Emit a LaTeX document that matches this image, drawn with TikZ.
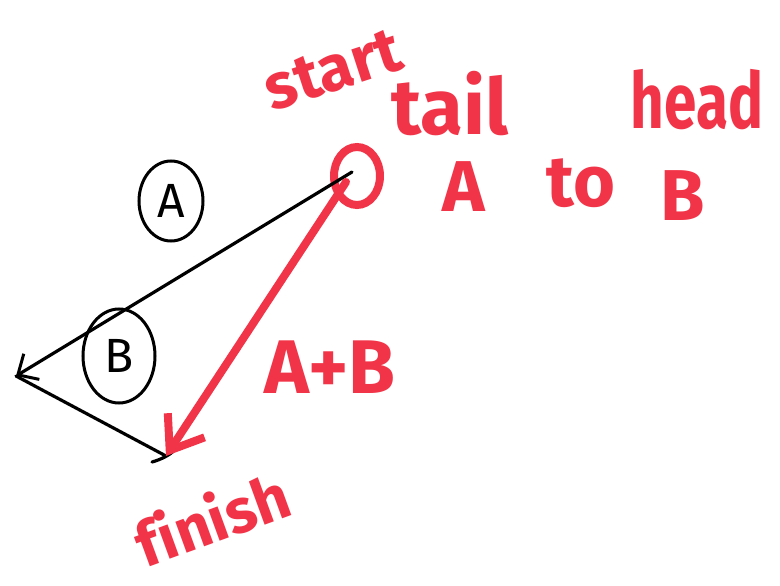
\documentclass[tikz,border=0pt]{standalone}
\usepackage{fontspec}
\setmainfont{Fira Sans}
\usetikzlibrary{arrows.meta,positioning,shapes.geometric}
\definecolor{penred}{RGB}{242,52,72}

\begin{document}
\begin{tikzpicture}[
    x=1pt, y=-1pt,
    redtext/.style={text=penred, font=\bfseries\fontsize{#1}{#1}\selectfont, inner sep=0pt},
    redtext/.default=78,
    vec/.style={draw=black, line width=3.2pt, line cap=round},
    sumvec/.style={draw=penred, line width=8pt, line cap=round,
      -{Straight Barb[length=30pt, width=44pt, line width=8pt]}},
    tag/.style={draw=black, line width=3pt, ellipse, inner sep=0pt,
      font=\fontsize{48}{48}\selectfont}
  ]
    \useasboundingbox (0,0) rectangle (780,586);

    % points of the two vectors
    \coordinate (start) at (352,172);
    \coordinate (tipA) at (16,376);
    \coordinate (finish) at (166,456);

    \node[draw=penred, line width=8pt, ellipse, minimum width=46pt, minimum height=58pt] (startring) at (357,176) {};

    % vector A and vector B (black)
    \draw[vec, -{Straight Barb[length=16pt, width=30pt, line width=3pt]}] (start) -- (tipA);
    \draw[vec] (tipA) -- (finish);
    \draw[vec] (finish) ++(-14,6) .. controls +(8,-2) and +(-2,4) .. ++(22,-12);

    % resultant
    \draw[sumvec] ([shift={(-6,10)}]start) -- (finish);

    % circled names
    \node[tag, minimum width=64pt, minimum height=80pt] (tagA) at (171,201) {A};
    \node[tag, minimum width=72pt, minimum height=94pt] (tagB) at (119,356) {B};

    % words
    \node[redtext=64, rotate=18] (startword) at (333,70) {start};
    \node[redtext=78] (tailword) at (450,104) {tail};
    \node[redtext=78, xscale=0.75] (headword) at (697,100) {head};
    \node[redtext=72] (aword) at (464,187) {A};
    \node[redtext=72] (toword) at (581,183) {to};
    \node[redtext=72] (bword) at (683,196) {B};
    \node[redtext=76] (sumword) at (330,367) {A+B};
    \node[redtext=62, rotate=20] (finishword) at (212,518) {\mbox{f}inish};
  \end{tikzpicture}
\end{document}
